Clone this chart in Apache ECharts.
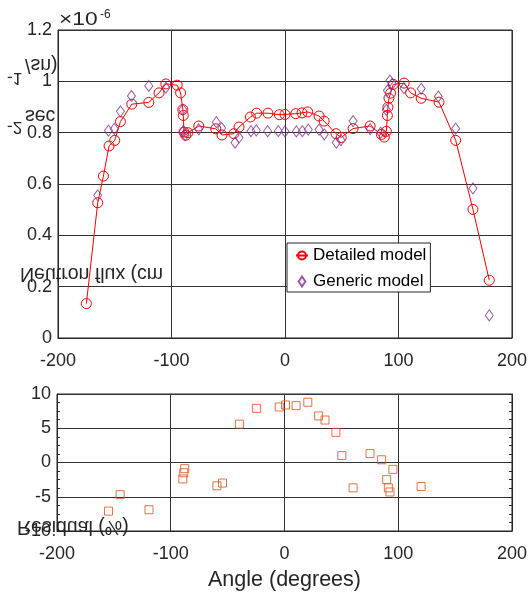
<!DOCTYPE html>
<html>
<head>
<meta charset="utf-8">
<script src="https://cdn.jsdelivr.net/npm/echarts@6/dist/echarts.min.js"></script>
<style>html,body{margin:0;padding:0;background:#fff;}#c{width:530px;height:595px;}</style>
</head>
<body>
<div id="c"></div>
<script>
// ---- data (flux in units of 1e-6) ----
const xTicks = [-200, -100, 0, 100, 200];
const fluxTicks = [0, 0.2, 0.4, 0.6, 0.8, 1, 1.2];
const residualTicks = [-10, -5, 0, 5, 10];

const detailedAngle = [-175, -165, -160, -155, -150, -145, -135, -120, -111, -105,
  -95, -92, -90, -89.6, -89, -87.5, -85.5, -76, -61, -55.5,
  -45, -40.5, -30.5, -25, -15, -5, 0, 9.5, 15, 20,
  30, 34.5, 45, 49.5, 60, 75, 85, 87.5, 89.3, 90.2,
  90.7, 91.6, 93, 95.4, 105, 110.7, 120, 135.7, 150.4, 165.6,
  180];
const detailedFlux = [0.134, 0.527, 0.631, 0.748, 0.770, 0.843, 0.911, 0.918, 0.955, 0.990,
  0.985, 0.955, 0.890, 0.867, 0.802, 0.790, 0.800, 0.826, 0.815, 0.791,
  0.796, 0.822, 0.861, 0.876, 0.876, 0.870, 0.871, 0.874, 0.877, 0.881,
  0.865, 0.845, 0.796, 0.781, 0.816, 0.826, 0.793, 0.783, 0.805, 0.867,
  0.899, 0.934, 0.954, 0.988, 0.993, 0.955, 0.934, 0.919, 0.770, 0.501,
  0.225];

const genericAngle = [-165, -155.5, -150.4, -145, -135.3, -120, -105, -90, -89.6, -88,
  -76, -60.5, -55.8, -44, -40.5, -30, -25.3, -15.3, -5.9, 0,
  10, 15.3, 20.5, 30, 34.6, 45.2, 49.3, 60, 75, 84.3,
  89.3, 90.2, 92.5, 94.5, 104.8, 120, 135.1, 150.4, 165.6, 180];
const genericFlux = [0.556, 0.808, 0.815, 0.883, 0.943, 0.982, 0.975, 0.890, 0.806, 0.790,
  0.813, 0.841, 0.818, 0.761, 0.781, 0.806, 0.809, 0.806, 0.806, 0.805,
  0.805, 0.806, 0.812, 0.812, 0.793, 0.761, 0.771, 0.845, 0.814, 0.800,
  0.889, 0.964, 1.003, 0.990, 0.973, 0.971, 0.941, 0.816, 0.583, 0.088];

const residualAngle = [-154.7, -144.5, -119.1, -89.4, -88.5, -87.7, -59.4, -54.5, -39.6, -24.5,
  -4.6, 0.9, 10.2, 20.5, 30, 35.6, 45.2, 50.4, 60.3, 75.2,
  85.4, 89.8, 91.3, 92.7, 95.3, 120.1];
const residualPct = [-7.1, -4.7, -6.9, -2.4, -1.5, -0.9, -3.4, -3.0, 5.6, 7.9,
  8.1, 8.4, 8.3, 8.8, 6.8, 6.2, 4.4, 1.0, -3.7, 1.3,
  0.4, -2.5, -3.7, -4.3, -1.0, -3.5];

// ---- chart ----
const FONT = '"Liberation Sans", Arial, sans-serif';
const TXT = '#262626';
const GRIDC = '#333333';
const chart = echarts.init(document.getElementById('c'), null, {renderer: 'canvas'});

function xAxisCfg(gi, extra) {
  return Object.assign({
    gridIndex: gi, type: 'value', min: xTicks[0], max: xTicks[xTicks.length - 1],
    interval: xTicks[1] - xTicks[0],
    axisLine: {show: true, onZero: false, lineStyle: {color: TXT, width: 1}},
    axisTick: {show: false},
    axisLabel: {color: TXT, fontSize: 18, fontFamily: FONT, margin: 14},
    splitLine: {show: true, lineStyle: {color: GRIDC, width: 1}}
  }, extra || {});
}

const option = {
  animation: false,
  backgroundColor: '#fff',
  grid: [
    {left: 58, right: 17, top: 30, height: 308, show: true, borderColor: TXT, borderWidth: 1, backgroundColor: 'transparent'},
    {left: 57, right: 17, top: 394, height: 137, show: true, borderColor: TXT, borderWidth: 1, backgroundColor: 'transparent'}
  ],
  xAxis: [
    xAxisCfg(0),
    xAxisCfg(1, {name: 'Angle (degrees)', nameLocation: 'middle', nameGap: 38,
      nameTextStyle: {color: TXT, fontSize: 21.5, fontFamily: FONT}})
  ],
  yAxis: [
    {gridIndex: 0, type: 'value', min: fluxTicks[0], max: fluxTicks[fluxTicks.length - 1],
      interval: fluxTicks[1] - fluxTicks[0],
      axisLine: {show: true, onZero: false, lineStyle: {color: TXT}},
      axisTick: {show: false},
      axisLabel: {color: TXT, fontSize: 18, fontFamily: FONT, margin: 6,
        formatter: v => String(Math.round(v * 10) / 10)},
      splitLine: {show: true, lineStyle: {color: GRIDC, width: 1}}},
    {gridIndex: 1, type: 'value', min: residualTicks[0], max: residualTicks[residualTicks.length - 1],
      interval: residualTicks[1] - residualTicks[0],
      axisLine: {show: true, onZero: false, lineStyle: {color: TXT}},
      axisTick: {show: true, inside: true, length: 3, lineStyle: {color: TXT}},
      minorTick: {show: true, splitNumber: 4, length: 3, lineStyle: {color: TXT}},
      axisLabel: {color: TXT, fontSize: 18, fontFamily: FONT, margin: 6},
      splitLine: {show: true, lineStyle: {color: GRIDC, width: 1}}},
    {gridIndex: 1, type: 'value', position: 'right', min: residualTicks[0], max: residualTicks[residualTicks.length - 1],
      interval: residualTicks[1] - residualTicks[0],
      axisLine: {show: true, onZero: false, lineStyle: {color: TXT}},
      axisTick: {show: true, inside: true, length: 3, lineStyle: {color: TXT}},
      minorTick: {show: true, splitNumber: 4, length: 3, lineStyle: {color: TXT}},
      axisLabel: {show: false},
      splitLine: {show: false}}
  ],
  legend: {
    orient: 'vertical', left: 287, top: 243,
    padding: [4, 4, 2, 8], itemWidth: 12, itemHeight: 10, itemGap: 9,
    borderColor: TXT, borderWidth: 1, backgroundColor: '#fff',
    textStyle: {fontSize: 17, color: '#000', fontFamily: FONT},
    data: [
      {name: 'Detailed model'},
      {name: 'Generic model', icon: 'path://M0,-3L2,0L0,3L-2,0Z'}
    ]
  },
  series: [
    {type: 'line', name: 'Detailed model', xAxisIndex: 0, yAxisIndex: 0,
      data: detailedAngle.map((a, i) => [a, detailedFlux[i]]),
      symbol: 'circle', symbolSize: 10, showSymbol: true,
      lineStyle: {color: '#ff0000', width: 1},
      itemStyle: {color: 'rgba(255,255,255,0)', borderColor: '#ff0000', borderWidth: 1},
      z: 2},
    {type: 'scatter', name: 'Generic model', xAxisIndex: 0, yAxisIndex: 0,
      data: genericAngle.map((a, i) => [a, genericFlux[i]]),
      symbol: 'diamond', symbolSize: [8, 11],
      itemStyle: {color: 'rgba(255,255,255,0)', borderColor: '#7e2f8e', borderWidth: 1},
      z: 3},
    {type: 'scatter', name: 'Residual', xAxisIndex: 1, yAxisIndex: 1,
      data: residualAngle.map((a, i) => [a, residualPct[i]]),
      symbol: 'rect', symbolSize: 8,
      itemStyle: {color: 'rgba(255,255,255,0)', borderColor: '#d95319', borderWidth: 1},
      z: 3}
  ],
  graphic: [
    {type: 'text', x: 59, y: 20, scaleX: 1.2, style: {text: '×10', font: '19px ' + FONT, fill: TXT, textVerticalAlign: 'middle', verticalAlign: 'middle'}},
    {type: 'text', x: 100, y: 15, style: {text: '-6', font: '12px ' + FONT, fill: TXT, textVerticalAlign: 'middle', verticalAlign: 'middle'}},
    // y-axis label pieces, rendered flipped as in the reference
    {type: 'text', x: 20, y: 273, scaleY: -1, z: 100, style: {text: 'Neutron flux (cm', font: '19.5px ' + FONT, fill: TXT, textVerticalAlign: 'middle', verticalAlign: 'middle'}},
    {type: 'text', x: 7, y: 127, scaleY: -1, z: 100, style: {text: '-2', font: '17px ' + FONT, fill: TXT, textVerticalAlign: 'middle', verticalAlign: 'middle'}},
    {type: 'text', x: 25, y: 115, scaleY: -1, z: 100, style: {text: 'sec', font: '19.5px ' + FONT, fill: TXT, textVerticalAlign: 'middle', verticalAlign: 'middle'}},
    {type: 'text', x: 7, y: 78, scaleY: -1, z: 100, style: {text: '-1', font: '17px ' + FONT, fill: TXT, textVerticalAlign: 'middle', verticalAlign: 'middle'}},
    {type: 'text', x: 25, y: 64, scaleY: -1, z: 100, style: {text: '/sn)', font: '19.5px ' + FONT, fill: TXT, textVerticalAlign: 'middle', verticalAlign: 'middle'}},
    {type: 'text', x: 17, y: 526, scaleY: -1, z: 100, style: {text: 'Residual (%)', font: '19.5px ' + FONT, fill: TXT, textVerticalAlign: 'middle', verticalAlign: 'middle'}}
  ]
};
chart.setOption(option);
</script>
</body>
</html>
